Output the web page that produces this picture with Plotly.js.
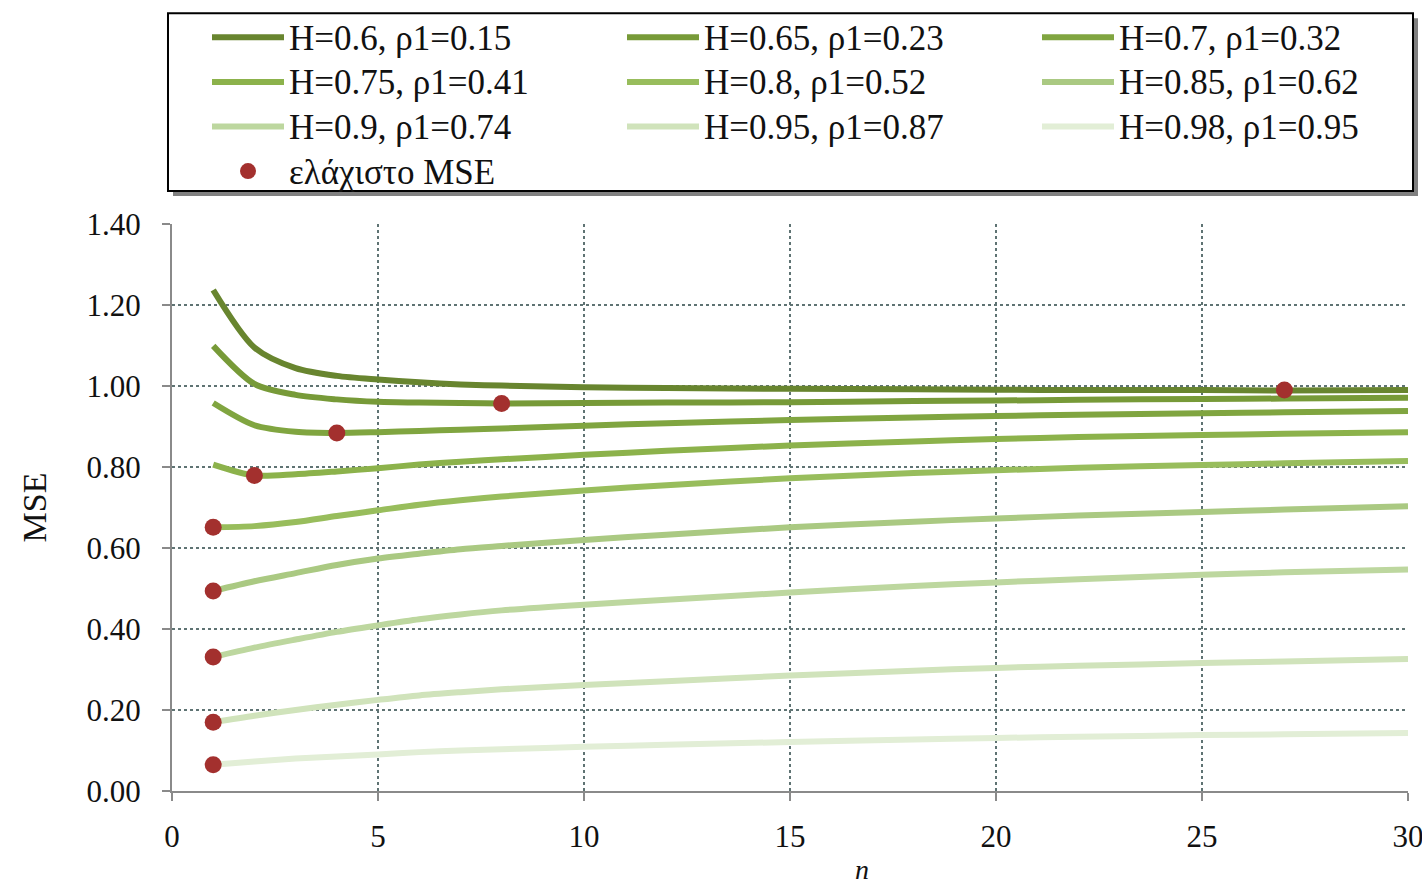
<!DOCTYPE html>
<html>
<head>
<meta charset="utf-8">
<script src="https://cdn.plot.ly/plotly-3.0.1.min.js"></script>
<style>
html,body{margin:0;padding:0;background:#fff;}
#chart{width:1422px;height:886px;}
</style>
</head>
<body>
<div id="chart"></div>
<script>
// n values where the curves are read
const nValues = [1,2,3,4,5,6,7,8,10,12,15,18,20,22,25,27,30];

const seriesNames = [
  "H=0.6, ρ1=0.15", "H=0.65, ρ1=0.23", "H=0.7, ρ1=0.32",
  "H=0.75, ρ1=0.41", "H=0.8, ρ1=0.52", "H=0.85, ρ1=0.62",
  "H=0.9, ρ1=0.74", "H=0.95, ρ1=0.87", "H=0.98, ρ1=0.95"
];

const mseH060 = [1.237,1.095,1.044,1.025,1.016,1.009,1.004,1.001,0.997,0.995,0.993,0.992,0.991,0.990,0.990,0.989,0.990];
const mseH065 = [1.099,1.005,0.978,0.967,0.961,0.959,0.958,0.957,0.958,0.959,0.960,0.963,0.964,0.966,0.968,0.969,0.971];
const mseH070 = [0.958,0.903,0.887,0.884,0.886,0.889,0.892,0.895,0.902,0.908,0.916,0.922,0.926,0.929,0.933,0.935,0.938];
const mseH075 = [0.806,0.779,0.782,0.789,0.797,0.806,0.813,0.819,0.830,0.840,0.853,0.863,0.869,0.874,0.879,0.882,0.886];
const mseH080 = [0.651,0.654,0.664,0.679,0.693,0.707,0.718,0.727,0.742,0.755,0.772,0.785,0.792,0.798,0.805,0.809,0.815];
const mseH085 = [0.494,0.518,0.538,0.558,0.574,0.586,0.597,0.605,0.620,0.633,0.651,0.665,0.673,0.680,0.689,0.695,0.703];
const mseH090 = [0.331,0.354,0.374,0.393,0.409,0.424,0.436,0.446,0.460,0.472,0.490,0.506,0.515,0.523,0.534,0.540,0.547];
const mseH095 = [0.170,0.186,0.200,0.213,0.225,0.236,0.244,0.251,0.262,0.271,0.285,0.297,0.304,0.309,0.316,0.320,0.326];
const mseH098 = [0.065,0.073,0.080,0.085,0.090,0.096,0.100,0.103,0.109,0.114,0.121,0.127,0.131,0.134,0.138,0.140,0.143];

const seriesValues = [mseH060, mseH065, mseH070, mseH075, mseH080, mseH085, mseH090, mseH095, mseH098];

// minimum MSE points
const minLabel = "ελάχιστο MSE";
const minN   = [27, 8, 4, 2, 1, 1, 1, 1, 1];
const minMSE = [0.990, 0.957, 0.884, 0.779, 0.651, 0.494, 0.331, 0.170, 0.065];

const xTitle = "n";
const yTitle = "MSE";

const lineColors = ["#68852f","#779a38","#80a540","#8cb24b","#98bd5c","#aac982","#bdd79f","#d0e3bb","#e2eed6"];
const legendIds = ["legend", "legend2", "legend3"];
const bigText = s => '<span style="font-size:35px">' + s + '</span>';

const traces = seriesValues.map((vals, i) => ({
  type: "scatter", mode: "lines", name: bigText(seriesNames[i]),
  x: nValues, y: vals,
  legend: legendIds[i % 3],
  line: {color: lineColors[i], width: 6, shape: "spline", smoothing: 0.8},
  hoverinfo: "skip"
}));
traces.push({
  type: "scatter", mode: "markers", name: bigText(minLabel),
  x: minN, y: minMSE, legend: "legend",
  marker: {color: "#a3302e", size: 17},
  hoverinfo: "skip"
});

const serif = "Liberation Serif, Times New Roman, serif";
const legendBase = {
  orientation: "v", xanchor: "left", y: 1.375, yanchor: "top",
  itemwidth: 72, borderwidth: 0, bgcolor: "rgba(0,0,0,0)",
  font: {family: serif, size: 32, color: "#111"},
  traceorder: "normal"
};

const layout = {
  width: 1422, height: 886,
  margin: {l: 172, r: 14, t: 223, b: 95},
  paper_bgcolor: "#ffffff", plot_bgcolor: "#ffffff",
  font: {family: serif, color: "#111", size: 31},
  showlegend: true,
  legend:  Object.assign({}, legendBase, {x: 0.02832}),
  legend2: Object.assign({}, legendBase, {x: 0.36408}),
  legend3: Object.assign({}, legendBase, {x: 0.69984}),
  shapes: [
    { // legend shadow
      type: "rect", xref: "paper", yref: "paper",
      x0: 0.00081, x1: 1.00809, y0: 1.04930, y1: 1.36268,
      fillcolor: "#555", line: {width: 0}, layer: "above", opacity: 0.75
    },
    { // legend frame
      type: "rect", xref: "paper", yref: "paper",
      x0: -0.00324, x1: 1.00405, y0: 1.05810, y1: 1.37148,
      fillcolor: "#ffffff", line: {width: 2, color: "#000"}, layer: "above"
    }
  ],
  annotations: [{
    text: "<i>" + xTitle + "</i>", xref: "paper", yref: "paper",
    x: 0.558, y: -0.1074, xanchor: "center", yanchor: "top",
    showarrow: false, font: {family: serif, size: 28, color: "#111"}
  }],
  xaxis: {
    range: [0, 30], dtick: 5, tick0: 0,
    showgrid: true, gridcolor: "#5f7373", griddash: "dot", gridwidth: 1.5,
    showline: true, linecolor: "#8a8a8a", linewidth: 2,
    ticks: "outside", ticklen: 8, tickcolor: "#8a8a8a", tickwidth: 2,
    ticklabelstandoff: 9, ticklabeloverflow: "allow",
    tickfont: {family: serif, size: 31, color: "#111"},
    zeroline: false
  },
  yaxis: {
    range: [0, 1.4], dtick: 0.2, tick0: 0, tickformat: ".2f",
    showgrid: true, gridcolor: "#5f7373", griddash: "dot", gridwidth: 1.5,
    showline: true, linecolor: "#8a8a8a", linewidth: 2,
    ticks: "outside", ticklen: 8, tickcolor: "#8a8a8a", tickwidth: 2,
    ticklabelstandoff: 15,
    tickfont: {family: serif, size: 31, color: "#111"},
    zeroline: false,
    title: {text: yTitle, font: {family: serif, size: 34, color: "#111"}, standoff: 30}
  }
};

Plotly.newPlot("chart", traces, layout, {staticPlot: true, displayModeBar: false});
</script>
</body>
</html>
